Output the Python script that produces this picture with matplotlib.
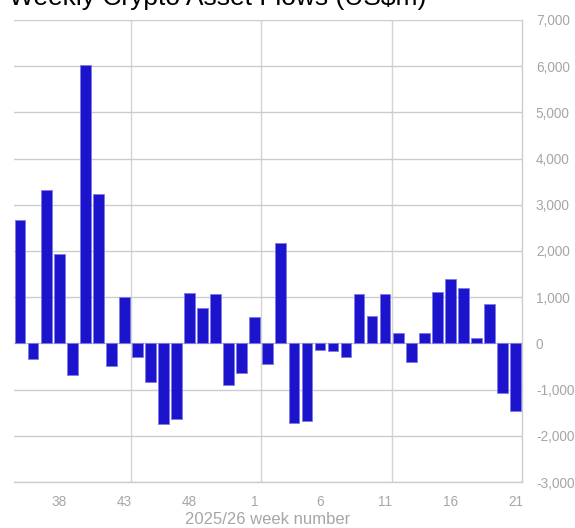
import matplotlib
matplotlib.use("Agg")
import matplotlib.pyplot as plt
import numpy as np

plt.rcParams['font.family'] = ['Liberation Sans', 'DejaVu Sans']

weeks = list(range(35, 53)) + list(range(1, 22))
flows = [2680, -340, 3320, 1930, -690, 6030, 3230, -480, 1000, -300,
         -840, -1750, -1645, 1100, 770, 1070, -910, -640, 580, -450,
         2170, -1725, -1675, -140, -160, -300, 1070, 590, 1060, 220,
         -410, 220, 1120, 1400, 1190, 110, 850, -1080, -1460]
yticks = list(range(-3000, 7001, 1000))
title = "Weekly Crypto Asset Flows (US$m)"
xlabel = "2025/26 week number"

W, H = 575, 528
fig = plt.figure(figsize=(W / 100, H / 100), dpi=100)
left, right, top, bottom = 13.6, 522, 20, 482
ax = fig.add_axes([left / W, 1 - bottom / H, (right - left) / W, (bottom - top) / H])

x = np.arange(len(weeks))
ax.bar(x, flows, width=0.82, color='#1c14cc', edgecolor='#7f7ae6', linewidth=0.6, zorder=3)

ax.set_xlim(-0.5, len(weeks) - 0.5)
ax.set_ylim(-3000, 7000)
ax.set_yticks(yticks)
ax.set_yticklabels([f"{v:,}" for v in yticks])
ax.yaxis.tick_right()
ax.grid(axis='y', color='#cccccc', linewidth=1.0, zorder=0)
for b in [8.5, 18.5, 28.5]:
    ax.axvline(b, color='#d4d4d4', linewidth=1.0, zorder=0)

tick_idx = [i for i, w in enumerate(weeks) if w in (38, 43, 48, 1, 6, 11, 16, 21)]
ax.set_xticks(tick_idx)
ax.set_xticklabels([str(weeks[i]) for i in tick_idx])
ax.tick_params(axis='x', length=0, pad=9, labelsize=9.8, labelcolor='#a6a6a6')
ax.tick_params(axis='y', length=0, pad=10, labelsize=9.8, labelcolor='#a6a6a6')
for lab in ax.get_yticklabels():
    lab.set_horizontalalignment('left')

for s in ['left', 'top']:
    ax.spines[s].set_visible(False)
ax.spines['right'].set_color('#cccccc')
ax.spines['bottom'].set_color('#cccccc')
ax.spines['right'].set_linewidth(1.0)
ax.spines['bottom'].set_linewidth(1.0)

fig.text((left + right) / 2 / W, 1 - 520 / H, xlabel, ha='center', va='center',
         fontsize=12, color='#a6a6a6')
fig.text(9 / W, 1 - 5 / H, title, ha='left', va='baseline', fontsize=19, color='#000000')

fig.savefig("out.png", dpi=100)
